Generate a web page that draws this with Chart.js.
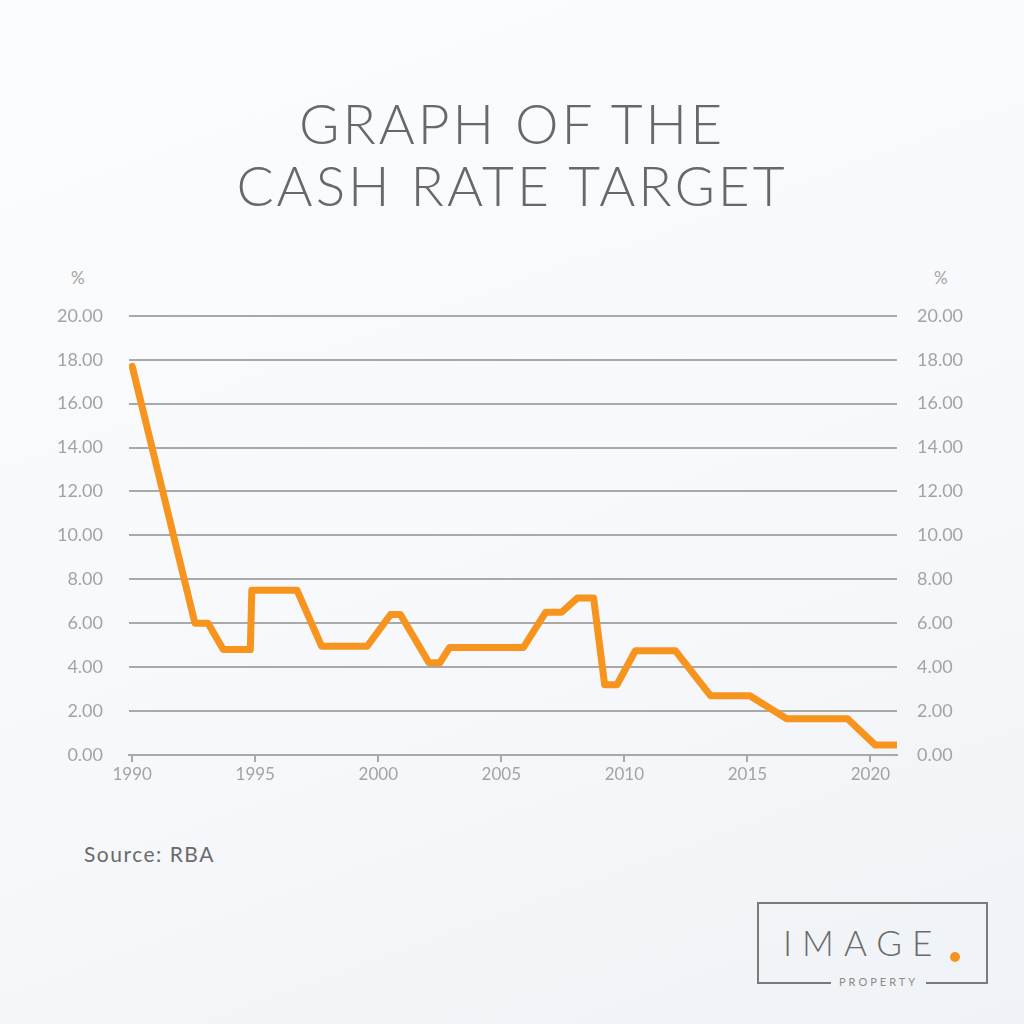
<!DOCTYPE html>
<html lang="en">
<head>
  <meta charset="UTF-8">
  <title>Graph of the Cash Rate Target</title>
  <script src="https://cdn.jsdelivr.net/npm/chart.js"></script>
  <style>
    html, body {
      margin: 0;
      padding: 0;
    }

    body {
      width: 1024px;
      height: 1024px;
      position: relative;
      overflow: hidden;
      font-family: Lato, "Open Sans", sans-serif;
      background: linear-gradient(160deg, #fbfcfe 0%, #f6f8fb 60%, #eff2f6 100%);
    }

    h1 {
      position: absolute;
      top: 92px;
      left: 0;
      width: 1024px;
      margin: 0;
      text-align: center;
      font-weight: 300;
      font-size: 55px;
      line-height: 62px;
      letter-spacing: 3px;
      color: #686868;
    }

    .pct {
      position: absolute;
      top: 267px;
      font-size: 17px;
      color: #a3a3a3;
    }

    #chart-box {
      position: absolute;
      left: 0;
      top: 279px;
      width: 1024px;
      height: 521px;
    }

    .source {
      position: absolute;
      left: 84px;
      top: 841px;
      font-size: 21px;
      letter-spacing: 1.5px;
      color: #6a6a6a;
    }

    .logo {
      position: absolute;
      left: 757px;
      top: 902px;
      width: 227px;
      height: 78px;
      border: 2px solid #7a7a7a;
    }

    .logo .name {
      position: absolute;
      left: 24px;
      top: 17px;
      font-size: 35px;
      font-weight: 300;
      letter-spacing: 10px;
      color: #6a6a6a;
    }

    .logo .dot {
      position: absolute;
      left: 191px;
      top: 48px;
      width: 10px;
      height: 10px;
      border-radius: 50%;
      background: #f7941d;
    }

    .logo .sub {
      position: absolute;
      left: 72px;
      top: 71px;
      padding: 0 8px;
      font-size: 11px;
      letter-spacing: 3px;
      color: #8a8a8a;
      background: #f1f4f7;
    }
  </style>
</head>
<body>
  <h1>GRAPH OF THE<br>CASH RATE TARGET</h1>
  <div class="pct" style="left:71px;">%</div>
  <div class="pct" style="left:934px;">%</div>

  <div id="chart-box">
    <canvas id="rateChart"></canvas>
  </div>

  <div class="source">Source: RBA</div>

  <div class="logo">
    <div class="name">IMAGE</div>
    <div class="dot"></div>
    <div class="sub">PROPERTY</div>
  </div>

  <script>
// cash rate target (corner points of the line)
const years = [1990.0, 1992.55, 1993.08, 1993.7, 1994.8, 1994.86, 1996.7, 1997.7, 1999.55,
  2000.5, 2000.9, 2002.06, 2002.5, 2002.9, 2005.9, 2006.8, 2007.45, 2008.1, 2008.75,
  2009.2, 2009.7, 2010.45, 2012.07, 2013.5, 2015.1, 2016.6, 2019.07, 2020.2, 2021.05];
const rates = [17.7, 6.0, 6.0, 4.8, 4.8, 7.5, 7.5, 4.95, 4.95,
  6.4, 6.4, 4.2, 4.2, 4.9, 4.9, 6.5, 6.5, 7.15, 7.15,
  3.2, 3.2, 4.75, 4.75, 2.7, 2.7, 1.65, 1.65, 0.45, 0.45];

const xTicks = [1990, 1995, 2000, 2005, 2010, 2015, 2020];
const yTicks = [0, 2, 4, 6, 8, 10, 12, 14, 16, 18, 20];

const points = years.map((y, i) => ({ x: y, y: rates[i] }));

const gridGray = "#a9a9a9";
const labelGray = "#a3a3a3";
const tickFont = { family: "Lato, 'Open Sans', sans-serif", size: 18 };

const yAxisBase = {
  type: "linear",
  min: 0,
  max: 20,
  afterBuildTicks: axis => { axis.ticks = yTicks.map(v => ({ value: v })); },
  border: { display: false },
  ticks: {
    color: labelGray,
    font: tickFont,
    callback: v => Number(v).toFixed(2)
  }
};

const ctx = document.getElementById("rateChart").getContext("2d");
new Chart(ctx, {
  type: "line",
  data: {
    datasets: [
      {
        label: "Cash rate target",
        data: points,
        borderColor: "#f7941d",
        borderWidth: 7,
        pointRadius: 0,
        borderJoinStyle: "round",
        borderCapStyle: "round",
        tension: 0
      }
    ]
  },
  options: {
    responsive: true,
    maintainAspectRatio: false,
    animation: false,
    layout: { padding: { top: 15, left: 0, right: 0, bottom: 0 } },
    plugins: {
      legend: { display: false },
      tooltip: { enabled: false }
    },
    scales: {
      x: {
        type: "linear",
        min: 1989.87,
        max: 2021.08,
        afterBuildTicks: axis => { axis.ticks = xTicks.map(v => ({ value: v })); },
        afterFit: axis => { axis.height = 45; },
        grid: {
          drawOnChartArea: false,
          drawTicks: true,
          tickLength: 7,
          color: gridGray,
          lineWidth: 2
        },
        border: { display: true, color: gridGray, width: 2 },
        ticks: {
          color: labelGray,
          font: Object.assign({}, tickFont, { size: 17 }),
          padding: 2,
          maxRotation: 0,
          callback: v => String(v)
        }
      },
      y: Object.assign({}, yAxisBase, {
        position: "left",
        afterFit: axis => { axis.width = 129; },
        grid: { color: gridGray, lineWidth: 2, drawTicks: false },
        ticks: Object.assign({}, yAxisBase.ticks, { padding: 26 })
      }),
      y2: Object.assign({}, yAxisBase, {
        position: "right",
        afterFit: axis => { axis.width = 127; },
        grid: { display: false, drawTicks: false },
        ticks: Object.assign({}, yAxisBase.ticks, { padding: 20 })
      })
    }
  }
});
  </script>
</body>
</html>
